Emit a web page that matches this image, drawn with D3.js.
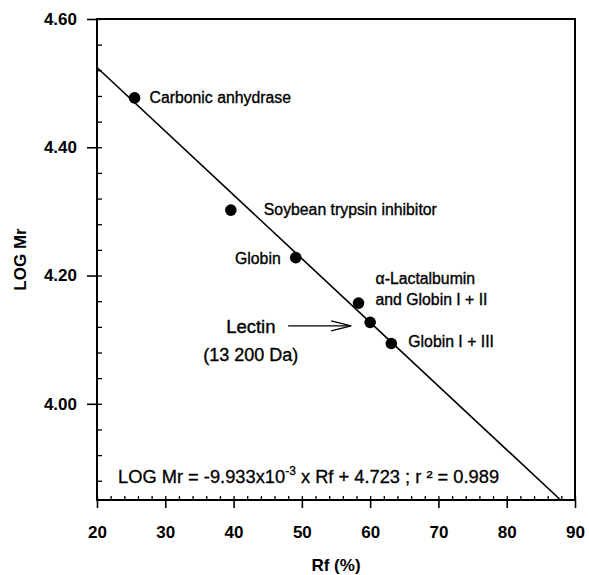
<!DOCTYPE html>
<html>
<head>
<meta charset="utf-8">
<script src="https://cdn.jsdelivr.net/npm/d3@7"></script>
<style>
  html, body { margin: 0; padding: 0; background: #fff; }
  svg { display: block; font-family: "Liberation Sans", Arial, sans-serif; }
</style>
</head>
<body>
<svg id="chart" width="589" height="575"></svg>
<script>
// Calibration proteins: relative mobility (Rf, %) against log molecular mass
const proteins = [
  "Carbonic anhydrase",
  "Soybean trypsin inhibitor",
  "Globin",
  "α-Lactalbumin|and Globin I + II",
  "Lectin",
  "Globin I + III"
];
const rfValues = [25.5, 39.6, 49.1, 58.3, 60.0, 63.1];
const logMrValues = [4.477, 4.302, 4.228, 4.157, 4.127, 4.094];

// Regression line: LOG Mr = slope * Rf + intercept
const fitSlope = -9.933e-3;
const fitIntercept = 4.723;

const xTicks = [20, 30, 40, 50, 60, 70, 80, 90];
const xMinorTicks = d3.range(20, 90.001, 2);
const yTicks = [4.00, 4.20, 4.40, 4.60];
const yMinorTicks = d3.range(3.88, 4.6001, 0.04);

const svg = d3.select("#chart");
const margin = { left: 97, right: 14, top: 19, bottom: 75 };
const W = 589, H = 575;
const x = d3.scaleLinear().domain([20, 90]).range([margin.left, W - margin.right]);
const y = d3.scaleLinear().domain([3.85, 4.60]).range([H - margin.bottom, margin.top]);

const ink = "#000";

// Minor ticks point into the plot, major ticks point outward
svg.append("g")
  .attr("transform", `translate(0,${y.range()[0]})`)
  .call(d3.axisBottom(x).tickValues(xMinorTicks).tickSizeInner(-4).tickSizeOuter(0).tickFormat(""))
  .call(g => g.select(".domain").remove())
  .selectAll("line").attr("stroke", ink).attr("stroke-width", 1.3);

svg.append("g")
  .attr("transform", `translate(${x.range()[0]},0)`)
  .call(d3.axisLeft(y).tickValues(yMinorTicks).tickSizeInner(-5).tickSizeOuter(0).tickFormat(""))
  .call(g => g.select(".domain").remove())
  .selectAll("line").attr("stroke", ink).attr("stroke-width", 1.3);

const xAxis = svg.append("g")
  .attr("transform", `translate(0,${y.range()[0]})`)
  .call(d3.axisBottom(x).tickValues(xTicks).tickSize(8).tickPadding(18).tickFormat(d3.format("d")));
xAxis.select(".domain").remove();
xAxis.selectAll("line").attr("stroke", ink).attr("stroke-width", 1.6);
xAxis.selectAll("text").attr("fill", ink).attr("font-size", 17).attr("font-weight", "bold")
  .attr("font-family", "Liberation Sans, Arial, sans-serif");

const yAxis = svg.append("g")
  .attr("transform", `translate(${x.range()[0]},0)`)
  .call(d3.axisLeft(y).tickValues(yTicks).tickSize(10).tickPadding(10).tickFormat(d3.format(".2f")));
yAxis.select(".domain").remove();
yAxis.selectAll("line").attr("stroke", ink).attr("stroke-width", 1.6);
yAxis.selectAll("text").attr("fill", ink).attr("font-size", 17).attr("font-weight", "bold")
  .attr("font-family", "Liberation Sans, Arial, sans-serif");

// Plot frame
svg.append("rect")
  .attr("x", x.range()[0]).attr("y", y.range()[1])
  .attr("width", x.range()[1] - x.range()[0])
  .attr("height", y.range()[0] - y.range()[1])
  .attr("fill", "none").attr("stroke", ink).attr("stroke-width", 2);

// Regression line, clipped to the plotted range
const rfStart = x.domain()[0];
const rfEnd = (y.domain()[0] - fitIntercept) / fitSlope;
svg.append("line")
  .attr("x1", x(rfStart)).attr("y1", y(fitSlope * rfStart + fitIntercept))
  .attr("x2", x(rfEnd)).attr("y2", y(fitSlope * rfEnd + fitIntercept))
  .attr("stroke", ink).attr("stroke-width", 1.6);

// Data points
svg.append("g").selectAll("circle")
  .data(rfValues)
  .join("circle")
  .attr("cx", d => x(d))
  .attr("cy", (d, i) => y(logMrValues[i]))
  .attr("r", 5.8)
  .attr("fill", ink);

// Point labels (offsets in px from each point)
const labelOffsets = [
  { dx: 15, dy: 5.5, anchor: "start" },
  { dx: 33, dy: 5, anchor: "start" },
  { dx: -15, dy: 6, anchor: "end" },
  { dx: 17, dy: -19, anchor: "start" },
  null,
  { dx: 17, dy: 3, anchor: "start" }
];
const labelG = svg.append("g")
  .attr("font-size", 15.8).attr("fill", ink)
  .attr("stroke", ink).attr("stroke-width", 0.35);
proteins.forEach((name, i) => {
  const o = labelOffsets[i];
  if (!o) return;
  const t = labelG.append("text")
    .attr("x", x(rfValues[i]) + o.dx)
    .attr("y", y(logMrValues[i]) + o.dy)
    .attr("text-anchor", o.anchor);
  name.split("|").forEach((line, k) => {
    t.append("tspan")
      .attr("x", x(rfValues[i]) + o.dx)
      .attr("dy", k === 0 ? 0 : 21)
      .text(line);
  });
});

// Lectin callout with arrow
const li = proteins.indexOf("Lectin");
const lx = x(rfValues[li]), ly = y(logMrValues[li]);
const callout = svg.append("g").attr("fill", ink).attr("stroke", ink).attr("stroke-width", 0.35);
callout.append("text")
  .attr("x", lx - 144).attr("y", ly + 10.5)
  .attr("font-size", 18.5)
  .text(proteins[li]);
callout.append("text")
  .attr("x", lx - 167).attr("y", ly + 39)
  .attr("font-size", 18)
  .text("(13 200 Da)");
const ax1 = lx - 82, ax2 = lx - 19, ay = ly + 3.5;
svg.append("line")
  .attr("x1", ax1).attr("y1", ay).attr("x2", ax2).attr("y2", ay)
  .attr("stroke", ink).attr("stroke-width", 1.4);
svg.append("path")
  .attr("d", `M${ax2 - 20},${ay - 5} L${ax2},${ay} L${ax2 - 20},${ay + 5}`)
  .attr("fill", "none").attr("stroke", ink).attr("stroke-width", 1.4);

// Regression equation
const eq = svg.append("text")
  .attr("x", 118).attr("y", 483)
  .attr("font-size", 18.3).attr("fill", ink)
  .attr("stroke", ink).attr("stroke-width", 0.3);
eq.append("tspan").text("LOG Mr = -9.933x10");
eq.append("tspan").attr("font-size", 12).attr("dy", -8).text("-3");
eq.append("tspan").attr("dy", 8).text(" x Rf + 4.723 ; r \u00B2 = 0.989");

// Axis titles
svg.append("text")
  .attr("x", (x.range()[0] + x.range()[1]) / 2).attr("y", 571)
  .attr("text-anchor", "middle")
  .attr("font-size", 17).attr("font-weight", "bold").attr("fill", ink)
  .text("Rf (%)");

svg.append("text")
  .attr("transform", `translate(26,${(y.range()[0] + y.range()[1]) / 2}) rotate(-90)`)
  .attr("text-anchor", "middle")
  .attr("font-size", 17).attr("font-weight", "bold").attr("fill", ink)
  .text("LOG Mr");
</script>
</body>
</html>
